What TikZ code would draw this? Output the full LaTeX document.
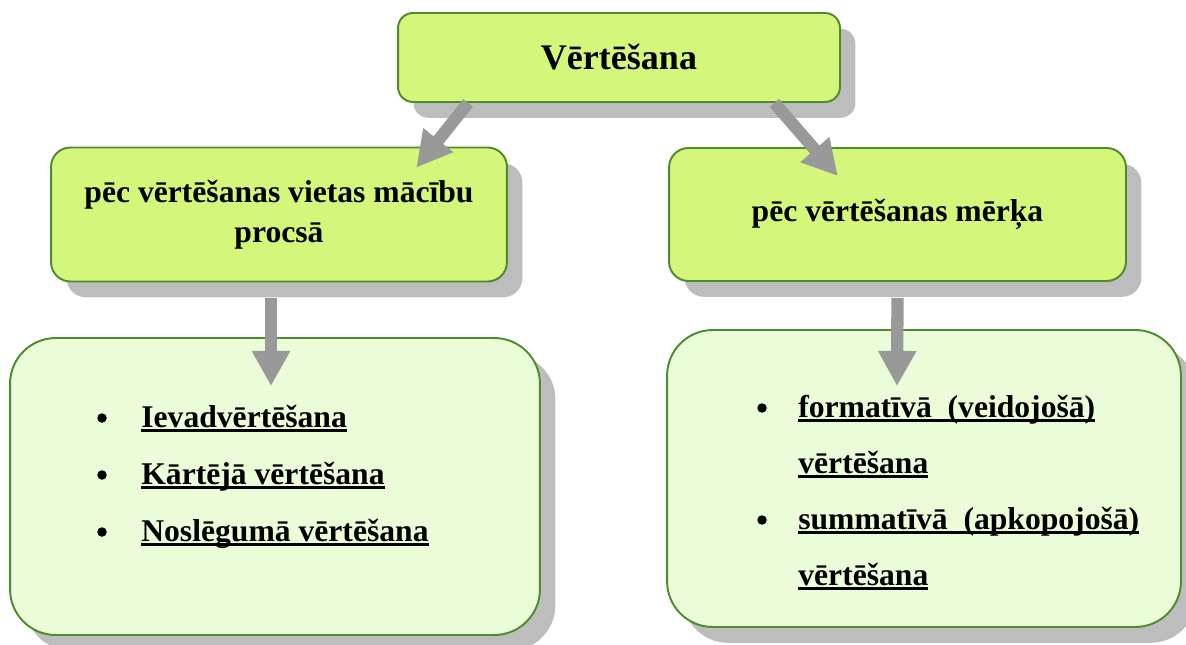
\documentclass[tikz,border=0pt]{standalone}
\usepackage{fontspec}
\setmainfont{Liberation Serif}
\usepackage{xcolor}
\usepackage{tikz}
\usetikzlibrary{positioning,calc,arrows.meta,shadows}

\definecolor{boxgreen}{HTML}{D4F67A}
\definecolor{palegreen}{HTML}{EBFDD8}
\definecolor{edgegreen}{HTML}{4E8B2E}
\definecolor{shadowgray}{HTML}{BDBDBD}
\definecolor{arrgray}{HTML}{999999}

% pasvītrojums vienā augstumā
\newlength\ulwd
\newcommand\uline[1]{\settowidth{\ulwd}{#1}\rlap{\rule[-3pt]{\ulwd}{1.7pt}}#1}

\begin{document}
\begin{tikzpicture}[
	x=0.02cm, y=-0.02cm, % 1 vienība = 1 pikselis
	box/.style={
		draw=edgegreen, line width=1.1pt,
		fill=boxgreen,
		drop shadow={shadow xshift=8.8pt, shadow yshift=-9pt, fill=shadowgray, opacity=1},
		font=\bfseries,
		align=center
	},
	listbox/.style={
		box, fill=palegreen, rounded corners=26pt
	},
	dot/.style={
		circle, fill=black, inner sep=0pt, minimum size=0.19cm
	},
	item/.style={
		font=\fontsize{18}{22}\selectfont\bfseries, anchor=base west, inner sep=0pt
	},
	arr/.style={
		draw=arrgray, line width=7pt,
		-{Triangle[length=20pt,width=20.5pt]}
	}
	]
	\useasboundingbox (0,0) rectangle (1186,645);
	
	% Galvenais bloks
	\node[box, rounded corners=8.5pt, minimum width=8.84cm, minimum height=1.78cm,
		font=\fontsize{20.5}{24}\selectfont\bfseries] (top) at (619,57.5) {Vērtēšana};
	
	% Otrais līmenis
	\node[box, rounded corners=11pt, minimum width=9.12cm, minimum height=2.68cm,
		font=\fontsize{18}{22.7}\selectfont\bfseries] (midL) at (279,214.5)
		{pēc vērtēšanas vietas mācību\\procsā};
	\node[box, rounded corners=11pt, minimum width=9.14cm, minimum height=2.66cm,
		font=\fontsize{18}{22.7}\selectfont\bfseries] (midR) at (897.5,214.5)
		{pēc vērtēšanas mērķa};
	
	% Trešais līmenis
	\node[listbox, minimum width=10.6cm, minimum height=5.94cm] (botL) at (275,486.5) {};
	\node[listbox, minimum width=10.28cm, minimum height=5.94cm] (botR) at (924,478.5) {};
	
	% Saraksts pa kreisi
	\foreach \txt [count=\i] in {Ievadvērtēšana, Kārtējā vērtēšana, Noslēgumā vērtēšana} {
		\node[dot] (bL\i) at (102, 361+57*\i) {};
		\node[item] (iL\i) at (141, 370+57*\i) {\uline{\txt}};
	}
	
	% Saraksts pa labi
	\node[dot] (bR1) at (762,408) {};
	\node[item] (iR1) at (798,417) {\uline{formatīvā\ \ (veidojošā)}};
	\node[item] (iR2) at (798,473) {\uline{vērtēšana}};
	\node[dot] (bR3) at (762,520) {};
	\node[item] (iR3) at (798,529) {\uline{summatīvā\ \ (apkopojošā)}};
	\node[item] (iR4) at (798,585) {\uline{vērtēšana}};
	
	% Bultas
	\draw[arr] ($(top.south west)!0.16!(top.south east)$)
		-- ($(midL.north west)!0.8!(midL.north east)+(0,21)$);
	\draw[arr] ($(top.south west)!0.85!(top.south east)$)
		-- ($(midR.north west)!0.37!(midR.north east)+(0,29)$);
	\draw[arr] ($(midL.south)+(-8,16)$) -- ($(botL.north)+(-4,49)$);
	\draw[arr] ($(midR.south)+(0,16)$) -- ($(botR.north)+(-27,57)$);
	
\end{tikzpicture}
\end{document}
